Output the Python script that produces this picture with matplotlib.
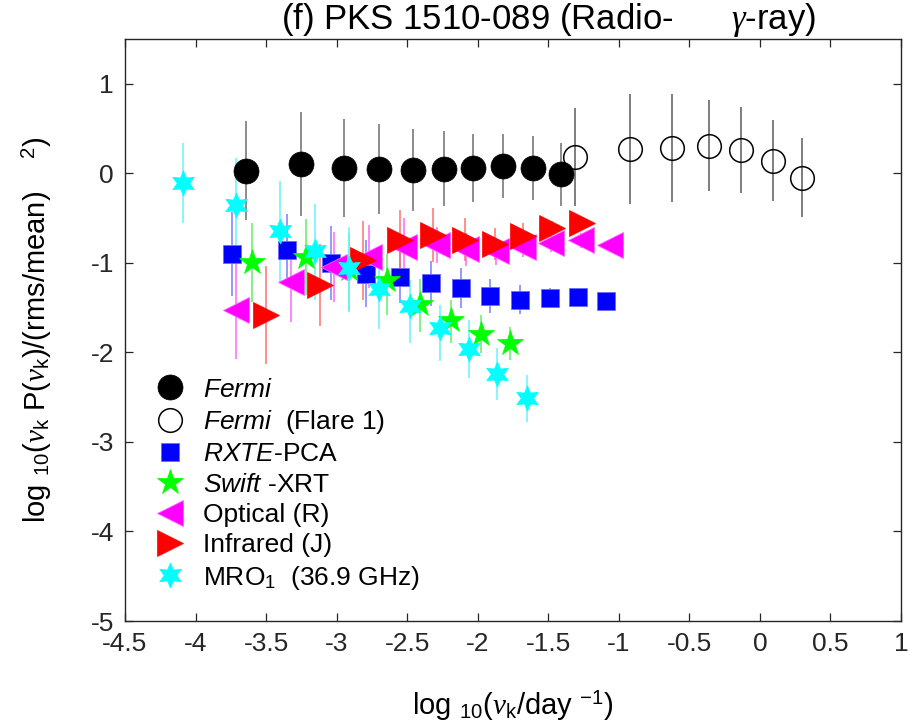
import matplotlib
matplotlib.use("Agg")
import numpy as np
import matplotlib.pyplot as plt
import matplotlib.ticker as ticker

plt.rcParams["font.family"] = ["Liberation Sans", "DejaVu Sans"]
plt.rcParams["mathtext.fontset"] = "custom"
plt.rcParams["mathtext.rm"] = "Liberation Sans"
plt.rcParams["mathtext.it"] = "Liberation Serif:italic"
plt.rcParams["mathtext.sf"] = "Liberation Sans:italic"
plt.rcParams["axes.unicode_minus"] = False

# ─── Data ─────────────────────────────────────────────────────────────────────
fermi_x   = [-3.64, -3.25, -2.95, -2.70, -2.46, -2.24, -2.03, -1.82, -1.61, -1.41]
fermi_y   = [0.03, 0.10, 0.06, 0.05, 0.04, 0.05, 0.06, 0.08, 0.06, -0.01]
fermi_err = [0.55, 0.58, 0.55, 0.50, 0.46, 0.42, 0.38, 0.36, 0.36, 0.35]

flare_x   = [-1.31, -0.92, -0.62, -0.36, -0.13, 0.09, 0.30]
flare_y   = [0.18, 0.27, 0.28, 0.31, 0.26, 0.14, -0.05]
flare_err = [0.55, 0.61, 0.60, 0.51, 0.48, 0.45, 0.44]

rxte_x   = [-3.74, -3.35, -3.04, -2.79, -2.55, -2.33, -2.12, -1.91, -1.70, -1.49, -1.29, -1.09]
rxte_y   = [-0.90, -0.86, -1.00, -1.12, -1.16, -1.23, -1.28, -1.37, -1.41, -1.39, -1.38, -1.43]
rxte_err = [0.47, 0.40, 0.41, 0.37, 0.29, 0.25, 0.22, 0.19, 0.16, 0.11, 0.08, 0.05]

swift_x  = [-3.60, -3.22, -2.91, -2.64, -2.41, -2.19, -1.98, -1.77]
swift_y  = [-0.99, -0.94, -1.07, -1.19, -1.46, -1.64, -1.79, -1.89]
swift_lo = [0.45, 0.42, 0.47, 0.39, 0.31, 0.26, 0.22, 0.20]
swift_hi = [0.43, 0.43, 0.40, 0.29, 0.28, 0.23, 0.21, 0.17]

opt_x   = [-3.71, -3.32, -3.02, -2.77, -2.52, -2.29, -2.08, -1.87, -1.68, -1.48, -1.27, -1.06]
opt_y   = [-1.53, -1.21, -1.05, -0.93, -0.82, -0.80, -0.85, -0.87, -0.82, -0.78, -0.75, -0.80]
opt_err = [0.54, 0.45, 0.39, 0.35, 0.32, 0.20, 0.18, 0.15, 0.12, 0.10, 0.08, 0.06]

ir_x   = [-3.50, -3.12, -2.81, -2.55, -2.32, -2.09, -1.88, -1.68, -1.47, -1.26]
ir_y   = [-1.58, -1.25, -0.97, -0.74, -0.69, -0.74, -0.79, -0.70, -0.61, -0.55]
ir_err = [0.55, 0.46, 0.44, 0.33, 0.30, 0.24, 0.18, 0.15, 0.08, 0.05]

mro_x  = [-4.09, -3.71, -3.40, -3.15, -2.91, -2.70, -2.48, -2.27, -2.06, -1.86, -1.65]
mro_y  = [-0.11, -0.35, -0.65, -0.87, -1.06, -1.29, -1.48, -1.73, -1.96, -2.24, -2.51]
mro_lo = [0.45, 0.54, 0.58, 0.54, 0.49, 0.45, 0.41, 0.37, 0.33, 0.29, 0.27]
mro_hi = [0.45, 0.52, 0.56, 0.53, 0.46, 0.38, 0.29, 0.26, 0.32, 0.29, 0.26]

X_TICKS = np.arange(-4.5, 1.01, 0.5)
Y_TICKS = np.arange(-5, 1.01, 1)

# ─── Figure ───────────────────────────────────────────────────────────────────
fig = plt.figure(figsize=(9.15, 7.27), dpi=100)
ax = fig.add_axes([0.1366, 0.1458, 0.848, 0.8006])

ebar = dict(fmt="none", elinewidth=1.1, capsize=0)
ax.errorbar(fermi_x, fermi_y, yerr=fermi_err, ecolor="#6e6e6e", **ebar)
ax.errorbar(flare_x, flare_y, yerr=flare_err, ecolor="#5a5a5a", **ebar)
ax.errorbar(rxte_x, rxte_y, yerr=rxte_err, ecolor="#7a7aff", **ebar)
ax.errorbar(swift_x, swift_y, yerr=[swift_lo, swift_hi], ecolor="#66ee66", **ebar)
ax.errorbar(opt_x, opt_y, yerr=opt_err, ecolor="#ff66ff", **ebar)
ax.errorbar(ir_x, ir_y, yerr=ir_err, ecolor="#ff7070", **ebar)
ax.errorbar(mro_x, mro_y, yerr=[mro_lo, mro_hi], ecolor="#66f4ff", **ebar)

h_fermi, = ax.plot(fermi_x, fermi_y, "o", ms=18, mfc="black", mec="black", mew=0.5,
                   label=r"$\mathsf{Fermi}$")
h_flare, = ax.plot(flare_x, flare_y, "o", ms=17, mfc="none", mec="black", mew=1.1,
                   label=r"$\mathsf{Fermi}$  (Flare 1)")
h_rxte, = ax.plot(rxte_x, rxte_y, "s", ms=13.5, mfc="#0000ff", mec="#6a6aff", mew=0.6,
                  label=r"$\mathsf{RXTE}$-PCA")
h_swift, = ax.plot(swift_x, swift_y, "*", ms=19, mfc="#00ff00", mec="#00ff00", mew=0.5,
                   label=r"$\mathsf{Swift}$ -XRT")
h_opt, = ax.plot(opt_x, opt_y, "<", ms=19, mfc="#ff00ff", mec="#ff66ff", mew=0.6,
                 label="Optical (R)")
h_ir, = ax.plot(ir_x, ir_y, ">", ms=19, mfc="#ff0000", mec="#ff0000", mew=0.5,
                label="Infrared (J)")
h_mro, = ax.plot(mro_x, mro_y, marker=(6, 1, 0), ls="none", ms=18, mfc="#00ffff",
                 mec="#00ffff", mew=0.5, label=r"MRO$_1$  (36.9 GHz)")

ax.set_xlim(-4.5, 1)
ax.set_ylim(-5, 1.5)
ax.set_xticks(X_TICKS)
ax.set_yticks(Y_TICKS)
ax.xaxis.set_major_formatter(ticker.FormatStrFormatter("%g"))
ax.yaxis.set_major_formatter(ticker.FormatStrFormatter("%g"))
ax.tick_params(direction="in", length=6, width=0.9, top=True, right=True,
               labelsize=19, colors="#262626", pad=8)
for s in ax.spines.values():
    s.set_linewidth(1.0)
    s.set_color("#262626")

ax.set_xlabel(r"log $_{10}$($\nu_{\rm k}$/day $^{-1}$)", fontsize=21, labelpad=24)
ax.set_ylabel(r"log $_{10}$($\nu_{\rm k}$ P($\nu_{\rm k}$)/(rms/mean)    $^2$)",
              fontsize=21, labelpad=26)

fig.text(0.60, 0.972, r"(f) PKS 1510-089 (Radio-      $\gamma$-ray)", fontsize=25,
         ha="center", va="center")

ax.legend(handles=[h_fermi, h_flare, h_rxte, h_swift, h_opt, h_ir, h_mro],
          loc="upper left", bbox_to_anchor=(0.036, 0.418), frameon=False,
          fontsize=19, borderpad=0, borderaxespad=0, handlelength=1.3,
          handletextpad=0.6, labelspacing=0.24)

fig.savefig("out.png", dpi=100)
